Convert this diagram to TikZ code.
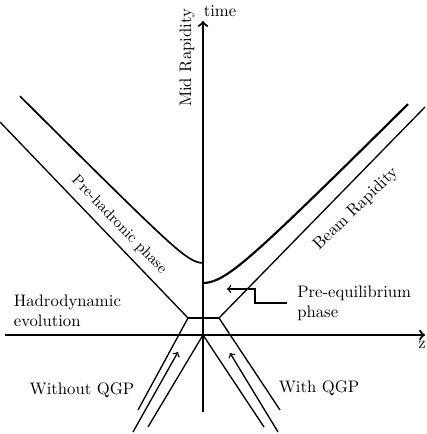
\documentclass[tikz,border=0pt]{standalone}
\begin{document}
\begin{tikzpicture}[x=0.6pt, y=0.6pt,
    axis/.style={line width=1.3pt, ->},
    wline/.style={line width=0.8pt},
    beam/.style={line width=0.8pt, ->}]
    \useasboundingbox (-203,-99) rectangle (223,335);

    % Axes
    \coordinate (zl) at (-198,0);
    \coordinate (zr) at (222,0);
    \coordinate (tb) at (0,-77);
    \coordinate (tt) at (0,314);
    \draw[axis] (zl) -- (zr);
    \draw[axis] (tb) -- (tt);
    \node (zlab) at (219,-10) {z};
    \node (tlab) at (17,324) {time};
    \node[rotate=90] (midrap) at (-16,277) {Mid Rapidity};

    % Collision zone
    \coordinate (O) at (0,0);
    \coordinate (hl) at (-15,17);
    \coordinate (hr) at (16,17);
    \draw[wline] (hl) -- (hr);

    % Incoming nuclei
    \coordinate (ll) at (-65,-75);
    \coordinate (lr) at (77,-75);
    \coordinate (il) at (-55,-92);
    \coordinate (ir) at (61,-92);
    \draw[wline] (hl) -- (ll);
    \draw[wline] (hr) -- (lr);
    \draw[wline] (O) -- (il);
    \draw[wline] (O) -- (ir);
    \coordinate (al0) at (-70,-97);
    \coordinate (al1) at (-25,-17);
    \coordinate (ar0) at (75,-97);
    \coordinate (ar1) at (27,-18);
    \draw[beam] (al0) -- (al1);
    \draw[beam] (ar0) -- (ar1);
    \node (woqgp) at (-121,-55) {Without QGP};
    \node (wqgp) at (116,-53) {With QGP};

    % Outgoing lines
    \coordinate (ul) at (-203,213);
    \coordinate (ur) at (222,228);
    \draw[wline] (hl) -- (ul);
    \draw[wline] (hr) -- (ur);
    \draw[line width=1pt, domain=-183:0, samples=60]
        plot (\x, {55+10*sqrt(2.89+(\x/10)*(\x/10))});
    \draw[line width=1.3pt, domain=0:205, samples=60]
        plot (\x, {24+10*sqrt(7.84+(\x/10)*(\x/10))});
    \node[rotate=-46, font=\small, inner sep=1pt] (prehad) at (-84,110) {Pre-hadronic phase};
    \node[rotate=44, inner sep=1pt] (beamrap) at (153,126) {Beam Rapidity};

    % Labels
    \node[anchor=west, align=left] (hadro) at (-195,24) {Hadrodynamic\\evolution};
    \node[anchor=west, align=left, inner xsep=6pt] (preeq) at (84,32) {Pre-equilibrium\\phase};
    \coordinate (petip) at (24,46);
    \draw[wline, ->] (preeq.west) -- ++(-32,0) |- (petip);
\end{tikzpicture}
\end{document}
